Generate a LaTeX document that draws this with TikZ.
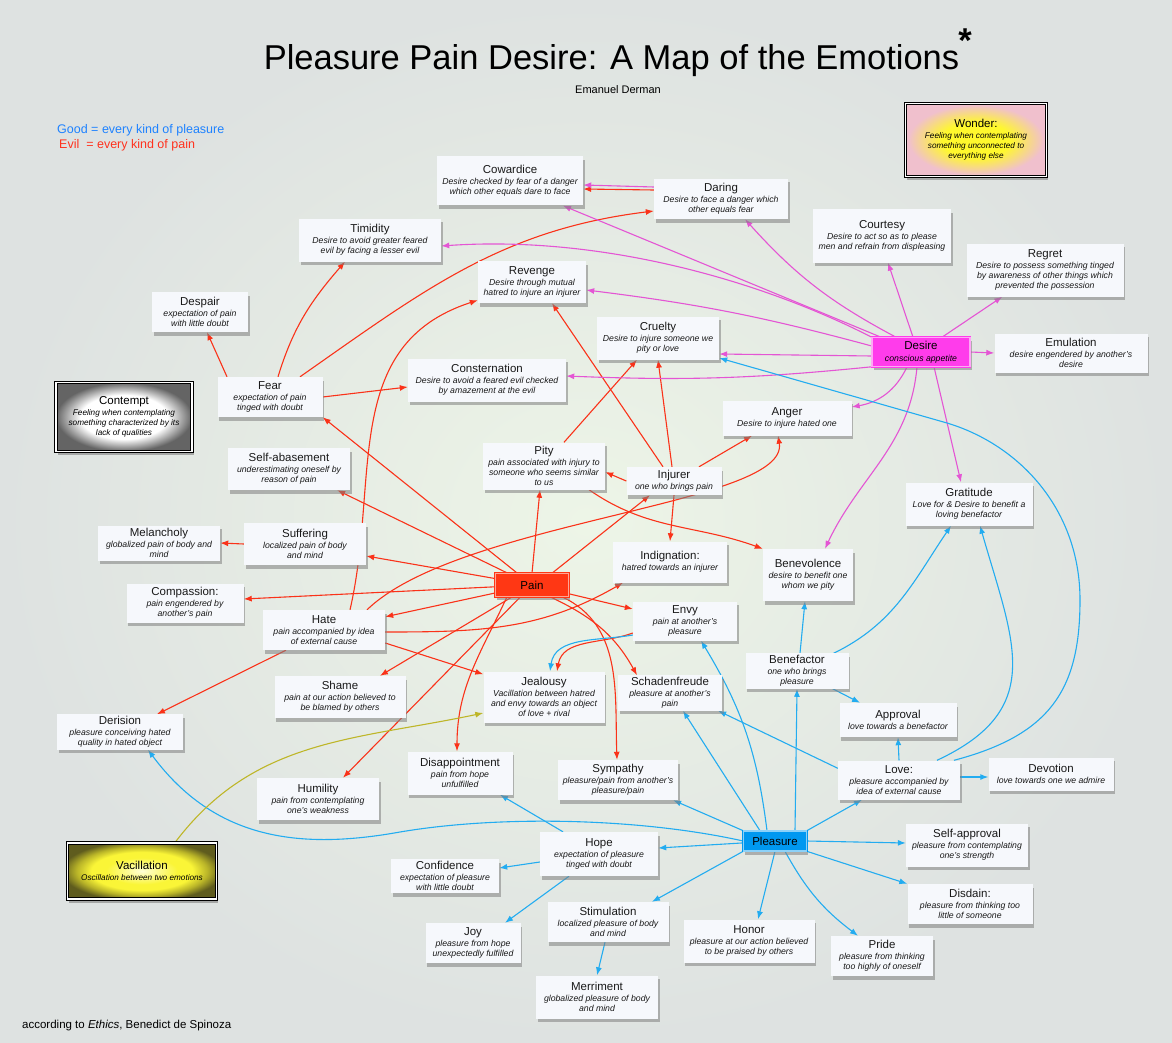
\documentclass[tikz,border=0pt]{standalone}
\usepackage{fontspec}
\setmainfont{Liberation Sans}
\usetikzlibrary{arrows.meta,shadows}
\definecolor{painred}{RGB}{250,50,25}
\definecolor{desirepink}{RGB}{228,85,212}
\definecolor{pleasureblue}{RGB}{35,172,240}
\definecolor{vacolive}{RGB}{190,182,40}
\definecolor{painbox}{RGB}{255,55,20}
\definecolor{desirebox}{RGB}{255,60,235}
\definecolor{pleasurebox}{RGB}{0,152,240}
\definecolor{boxwhite}{RGB}{246,248,252}
\definecolor{goodblue}{RGB}{30,130,255}
\definecolor{evilred}{RGB}{255,50,30}
\definecolor{bginner}{RGB}{237,245,231}
\definecolor{bgouter}{RGB}{222,226,225}
\definecolor{contemptin}{RGB}{255,255,255}
\definecolor{contemptout}{RGB}{100,100,100}
\definecolor{wonderin}{RGB}{255,248,45}
\definecolor{wonderout}{RGB}{240,192,205}
\definecolor{vacin}{RGB}{255,255,215}
\definecolor{vacmid}{RGB}{250,245,55}
\definecolor{vacdark}{RGB}{185,180,40}
\definecolor{vacout}{RGB}{95,92,30}
\pgfdeclareradialshading{contemptshade}{\pgfpoint{0bp}{0bp}}{color(0bp)=(contemptin); color(16bp)=(contemptin); color(25bp)=(contemptout); color(50bp)=(contemptout)}
\pgfdeclareradialshading{wondershade}{\pgfpoint{0bp}{0bp}}{color(0bp)=(wonderin); color(12bp)=(wonderin); color(24bp)=(wonderout); color(50bp)=(wonderout)}
\pgfdeclareradialshading{vacshade}{\pgfpoint{0bp}{0bp}}{color(0bp)=(vacin); color(12bp)=(vacmid); color(17bp)=(vacmid); color(22bp)=(vacdark); color(27bp)=(vacout); color(50bp)=(vacout)}
\newcommand{\etitle}[1]{{\fontsize{11.5}{12}\selectfont\upshape #1}}
\pgfdeclarelayer{bg}
\pgfdeclarelayer{edges}
\pgfsetlayers{bg,edges,main}
\tikzset{
  emo/.style={rectangle, fill=boxwhite, align=center, inner sep=2pt,
    font=\fontsize{8.7}{10}\selectfont\itshape, text=black!90,
    drop shadow={shadow xshift=1.5pt, shadow yshift=-3.5pt, opacity=0.55}},
  core/.style={rectangle, draw=#1, double=white!55!#1, double distance=1.4pt,
    line width=0.6pt, fill=#1, align=center, inner sep=1pt,
    font=\fontsize{11.5}{12}\selectfont,
    drop shadow={shadow xshift=1.5pt, shadow yshift=-3.5pt, opacity=0.55}},
  special/.style={rectangle, draw=black, double=white, double distance=1.6pt,
    line width=0.9pt, align=center, inner sep=2pt, shade,
    font=\fontsize{8.2}{10}\selectfont\itshape,
    drop shadow={shadow xshift=1.5pt, shadow yshift=-3.5pt, opacity=0.6}},
  painarrow/.style={draw=painred, line width=1.1pt, -{Latex[length=8pt,width=6pt]}},
  desirearrow/.style={draw=desirepink, line width=1.1pt, -{Latex[length=8pt,width=6pt]}},
  pleasurearrow/.style={draw=pleasureblue, line width=1.1pt, -{Latex[length=8pt,width=6pt]}},
  vacarrow/.style={draw=vacolive, line width=1.1pt, -{Latex[length=8pt,width=6pt]}}
}
\begin{document}
\begin{tikzpicture}[x=1pt,y=1pt]
  \useasboundingbox (0,0) rectangle (1172,-1043);
  \begin{pgfonlayer}{bg}
    \shade[inner color=bginner, outer color=bgouter] (0,0) rectangle (1172,-1043);
  \end{pgfonlayer}

  % titles and notes
  \node[anchor=base, font=\fontsize{34.5}{36}\selectfont] (title) at (611.5,-70) {Pleasure Pain Desire: A Map of the Emotions};
  \node[anchor=base, font=\fontsize{34.5}{36}\selectfont\bfseries] (star) at (965,-53) {*};
  \node[anchor=base, font=\fontsize{11}{12}\selectfont] (author) at (618,-94) {Emanuel Derman};
  \node[anchor=base west, inner sep=0, text=goodblue, font=\fontsize{12.5}{13}\selectfont] (good) at (57,-134) {Good = every kind of pleasure};
  \node[anchor=base west, inner sep=0, text=evilred, font=\fontsize{12.5}{13}\selectfont] (evil) at (59,-149) {Evil\ \ = every kind of pain};
  \node[anchor=base west, inner sep=0, font=\fontsize{11.5}{12}\selectfont] (source) at (22,-1028) {according to \textit{Ethics}, Benedict de Spinoza};

  % the three centres
  \node[core=painbox, minimum width=73, minimum height=23] (pain) at (532,-585) {Pain};
  \node[core=desirebox, minimum width=98, minimum height=29] (desire) at (921,-352) {Desire\\{\fontsize{8.7}{10}\selectfont\itshape conscious appetite}};
  \node[core=pleasurebox, minimum width=63, minimum height=20] (pleasure) at (775,-841) {Pleasure};

  % feelings apart
  \node[special, shading=wondershade, minimum width=141, minimum height=73] (wonder) at (976,-140) {\etitle{Wonder:}\\[1pt]Feeling when contemplating\\something unconnected to\\everything else};
  \node[special, shading=contemptshade, minimum width=136, minimum height=69] (contempt) at (124,-417) {\etitle{Contempt}\\[1pt]Feeling when contemplating\\something characterized by its\\lack of qualities};
  \node[special, shading=vacshade, minimum width=149, minimum height=56] (vacillation) at (142,-871) {\etitle{Vacillation}\\[1pt]Oscillation between two emotions};

  % emotions
  \node[emo, minimum width=146, minimum height=49] (cowardice) at (510,-181) {\etitle{Cowardice}\\[1pt]Desire checked by fear of a danger\\which other equals dare to face};
  \node[emo, minimum width=134, minimum height=40] (daring) at (721,-199) {\etitle{Daring}\\[1pt]Desire to face a danger which\\other equals fear};
  \node[emo, minimum width=142, minimum height=43] (timidity) at (370,-240) {\etitle{Timidity}\\[1pt]Desire to avoid greater feared\\evil by facing a lesser evil};
  \node[emo, minimum width=138, minimum height=53] (courtesy) at (882,-236) {\etitle{Courtesy}\\[1pt]Desire to act so as to please\\men and refrain from displeasing};
  \node[emo, minimum width=157, minimum height=53] (regret) at (1045,-270) {\etitle{Regret}\\[1pt]Desire to possess something tinged\\by awareness of other things which\\prevented the possession};
  \node[emo, minimum width=96, minimum height=40] (despair) at (200,-312) {\etitle{Despair}\\[1pt]expectation of pain\\with little doubt};
  \node[emo, minimum width=108, minimum height=42] (revenge) at (532,-282) {\etitle{Revenge}\\[1pt]Desire through mutual\\hatred to injure an injurer};
  \node[emo, minimum width=122, minimum height=43] (cruelty) at (658,-338) {\etitle{Cruelty}\\[1pt]Desire to injure someone we\\pity or love};
  \node[emo, minimum width=105, minimum height=40] (fear) at (270,-397) {\etitle{Fear}\\[1pt]expectation of pain\\tinged with doubt};
  \node[emo, minimum width=158, minimum height=43] (consternation) at (487,-380) {\etitle{Consternation}\\[1pt]Desire to avoid a feared evil checked\\by amazement at the evil};
  \node[emo, minimum width=153, minimum height=39] (emulation) at (1071,-353) {\etitle{Emulation}\\[1pt]desire engendered by another's\\desire};
  \node[emo, minimum width=129, minimum height=35] (anger) at (787,-418) {\etitle{Anger}\\[1pt]Desire to injure hated one};
  \node[emo, minimum width=122, minimum height=42] (selfabase) at (289,-469) {\etitle{Self-abasement}\\[1pt]underestimating oneself by\\reason of pain};
  \node[emo, minimum width=122, minimum height=47] (pity) at (544,-466) {\etitle{Pity}\\[1pt]pain associated with injury to\\someone who seems similar\\to us};
  \node[emo, minimum width=95, minimum height=28] (injurer) at (674,-481) {\etitle{Injurer}\\[1pt]one who brings pain};
  \node[emo, minimum width=127, minimum height=43] (gratitude) at (969,-504) {\etitle{Gratitude}\\[1pt]Love for \& Desire to benefit a\\loving benefactor};
  \node[emo, minimum width=122, minimum height=35] (melancholy) at (159,-543) {\etitle{Melancholy}\\[1pt]globalized pain of body and\\mind};
  \node[emo, minimum width=122, minimum height=42] (suffering) at (305,-544) {\etitle{Suffering}\\[1pt]localized pain of body\\and mind};
  \node[emo, minimum width=114, minimum height=41] (indignation) at (670,-562) {\etitle{Indignation:}\\[1pt]hatred towards an injurer};
  \node[emo, minimum width=90, minimum height=52] (benevolence) at (808,-575) {\etitle{Benevolence}\\[1pt]desire to benefit one\\whom we pity};
  \node[emo, minimum width=117, minimum height=39] (compassion) at (185,-603) {\etitle{Compassion:}\\[1pt]pain engendered by\\another's pain};
  \node[emo, minimum width=122, minimum height=40] (hate) at (324,-630) {\etitle{Hate}\\[1pt]pain accompanied by idea\\of external cause};
  \node[emo, minimum width=104, minimum height=39] (envy) at (685,-621) {\etitle{Envy}\\[1pt]pain at another's\\pleasure};
  \node[emo, minimum width=103, minimum height=35] (benefactor) at (797,-671) {\etitle{Benefactor}\\[1pt]one who brings\\pleasure};
  \node[emo, minimum width=131, minimum height=42] (shame) at (340,-697) {\etitle{Shame}\\[1pt]pain at our action believed to\\be blamed by others};
  \node[emo, minimum width=121, minimum height=51] (jealousy) at (544,-697) {\etitle{Jealousy}\\[1pt]Vacillation between hatred\\and envy towards an object\\of love + rival};
  \node[emo, minimum width=104, minimum height=34] (schaden) at (670,-693) {\etitle{Schadenfreude}\\[1pt]pleasure at another's\\pain};
  \node[emo, minimum width=117, minimum height=34] (approval) at (898,-720) {\etitle{Approval}\\[1pt]love towards a benefactor};
  \node[emo, minimum width=126, minimum height=35] (derision) at (120,-732) {\etitle{Derision}\\[1pt]pleasure conceiving hated\\quality in hated object};
  \node[emo, minimum width=105, minimum height=43] (disappoint) at (460,-773) {\etitle{Disappointment}\\[1pt]pain from hope\\unfulfilled};
  \node[emo, minimum width=120, minimum height=40] (sympathy) at (618,-780) {\etitle{Sympathy}\\[1pt]pleasure/pain from another's\\pleasure/pain};
  \node[emo, minimum width=122, minimum height=39] (love) at (899,-780) {\etitle{Love:}\\[1pt]pleasure accompanied by\\idea of external cause};
  \node[emo, minimum width=125, minimum height=33] (devotion) at (1051,-774) {\etitle{Devotion}\\[1pt]love towards one we admire};
  \node[emo, minimum width=122, minimum height=42] (humility) at (318,-799) {\etitle{Humility}\\[1pt]pain from contemplating\\one's weakness};
  \node[emo, minimum width=118, minimum height=44] (hope) at (599,-854) {\etitle{Hope}\\[1pt]expectation of pleasure\\tinged with doubt};
  \node[emo, minimum width=108, minimum height=34] (confidence) at (445,-876) {\etitle{Confidence}\\[1pt]expectation of pleasure\\with little doubt};
  \node[emo, minimum width=122, minimum height=43] (selfapprov) at (967,-845) {\etitle{Self-approval}\\[1pt]pleasure from contemplating\\one's strength};
  \node[emo, minimum width=121, minimum height=40] (stimulation) at (608,-922) {\etitle{Stimulation}\\[1pt]localized pleasure of body\\and mind};
  \node[emo, minimum width=125, minimum height=40] (disdain) at (970,-904) {\etitle{Disdain:}\\[1pt]pleasure from thinking too\\little of someone};
  \node[emo, minimum width=95, minimum height=40] (joy) at (473,-943) {\etitle{Joy}\\[1pt]pleasure from hope\\unexpectedly fulfilled};
  \node[emo, minimum width=131, minimum height=43] (honor) at (749,-941) {\etitle{Honor}\\[1pt]pleasure at our action believed\\to be praised by others};
  \node[emo, minimum width=102, minimum height=40] (pride) at (882,-956) {\etitle{Pride}\\[1pt]pleasure from thinking\\too highly of oneself};
  \node[emo, minimum width=122, minimum height=43] (merriment) at (597,-997) {\etitle{Merriment}\\[1pt]globalized pleasure of body\\and mind};

  \begin{pgfonlayer}{edges}
    % pain
    \draw[painarrow] ([xshift=-43]fear.north) -- ([xshift=7]despair.south);
    \draw[painarrow] ([xshift=8]fear.north) to[out=73,in=-131] ([xshift=-25]timidity.south);
    \draw[painarrow] ([xshift=30]fear.north) to[out=35,in=187] ([yshift=-12]daring.west);
    \draw[painarrow] ([yshift=9]daring.west) -- ([yshift=-8]cowardice.east);
    \draw[painarrow] (fear.east) -- ([yshift=-7]consternation.west);
    \draw[painarrow] (pain) -- (fear.south east);
    \draw[painarrow] (pain) -- ([xshift=-13]selfabase.south east);
    \draw[painarrow] (pain) -- ([yshift=-12]suffering.east);
    \draw[painarrow] (pain) -- ([yshift=4]compassion.east);
    \draw[painarrow] (pain) -- ([yshift=-7]hate.north east);
    \draw[painarrow] (pain) -- ([xshift=40]shame.north);
    \draw[painarrow] (pain) -- ([xshift=25]humility.north);
    \draw[painarrow] ([xshift=-25]pain.south) to[out=-115,in=90] ([xshift=-3]disappoint.north);
    \draw[painarrow] (pain.north) -- ([xshift=-4]pity.south);
    \draw[painarrow] ([xshift=20]pain.north) -- ([xshift=-24]injurer.south);
    \draw[painarrow] (pain) -- ([yshift=12]envy.west);
    \draw[painarrow] ([xshift=18]pain.south) to[out=-25,in=119] ([xshift=-33]schaden.north);
    \draw[painarrow] ([xshift=30]pain.south) to[out=-25,in=92] ([xshift=-1]sympathy.north);
    \draw[painarrow] (suffering.west) -- (melancholy.east);
    \draw[painarrow] ([xshift=-38]hate.south) -- ([xshift=37]derision.north);
    \draw[painarrow] ([yshift=-13]hate.east) -- ([yshift=-3]jealousy.north west);
    \draw[painarrow] ([yshift=-2]hate.east) to[out=0,in=-150] ([xshift=-47]indignation.south);
    \draw[painarrow] ([xshift=43]hate.north) .. controls (460,-520) and (790,-505) .. ([xshift=-9]anger.south);
    \draw[painarrow] ([xshift=26]hate.north) .. controls (380,-480) and (340,-345) .. ([yshift=3]revenge.south west);
    \draw[painarrow] (injurer.west) -- ([yshift=-6]pity.east);
    \draw[painarrow] ([xshift=-11]injurer.north) -- ([xshift=20]revenge.south);
    \draw[painarrow] ([xshift=-2]injurer.north) -- (cruelty.south);
    \draw[painarrow] ([xshift=25]injurer.north) -- ([xshift=-35]anger.south);
    \draw[painarrow] (injurer.south) -- (indignation.north);
    \draw[painarrow] ([xshift=20]pity.north) -- ([xshift=-21]cruelty.south);
    \draw[painarrow] ([xshift=45]pity.south) to[out=-35,in=160] (benevolence.north west);
    \draw[painarrow] ([yshift=-12]envy.west) to[out=200,in=80] ([xshift=13]jealousy.north);

    % desire
    \draw[desirearrow] ([xshift=-8]desire.north) -- ([xshift=6]courtesy.south);
    \draw[desirearrow] ([xshift=21]desire.north) -- ([xshift=36]regret.south west);
    \draw[desirearrow] (desire.east) -- (emulation.west);
    \draw[desirearrow] ([xshift=-14]desire.south) to[out=-115,in=10] ([yshift=11]anger.east);
    \draw[desirearrow] ([xshift=13]desire.south) -- ([xshift=-8]gratitude.north);
    \draw[desirearrow] ([xshift=-4]desire.south) to[out=-95,in=65] ([xshift=17]benevolence.north);
    \draw[desirearrow] (desire.south west) to[bend left=4] ([yshift=4]consternation.east);
    \draw[desirearrow] ([yshift=-4]desire.west) -- ([yshift=-16]cruelty.east);
    \draw[desirearrow] ([yshift=6]desire.west) to[bend right=4] ([yshift=-8]revenge.east);
    \draw[desirearrow] (desire.north west) .. controls (760,-280) and (600,-235) .. ([yshift=-6]timidity.east);
    \draw[desirearrow] ([xshift=-40]desire.north) -- ([xshift=53]cowardice.south);
    \draw[desirearrow] ([xshift=-25]desire.north) to[bend left=10] ([xshift=24]daring.south);
    \draw[desirearrow] ([yshift=12]daring.west) -- ([yshift=-4]cowardice.east);

    % pleasure
    \draw[pleasurearrow] (pleasure.west) .. controls (640,-818) and (500,-815) .. (400,-832)
      .. controls (300,-850) and (215,-840) .. ([xshift=28]derision.south);
    \draw[pleasurearrow] (pleasure) -- ([yshift=6]hope.east);
    \draw[pleasurearrow] ([yshift=-8]hope.west) -- ([yshift=8]confidence.east);
    \draw[pleasurearrow] ([xshift=-30]hope.south) -- ([xshift=32]joy.north);
    \draw[pleasurearrow] ([xshift=-36]hope.north) -- ([xshift=40]disappoint.south);
    \draw[pleasurearrow] (pleasure.south west) -- ([xshift=44]stimulation.north);
    \draw[pleasurearrow] ([xshift=-3]stimulation.south) -- (merriment.north);
    \draw[pleasurearrow] (pleasure.south) -- ([xshift=9]honor.north);
    \draw[pleasurearrow] ([xshift=10]pleasure.south) to[bend right=12] ([xshift=-24]pride.north);
    \draw[pleasurearrow] (pleasure.south east) -- (disdain.north west);
    \draw[pleasurearrow] (pleasure.east) -- ([yshift=2]selfapprov.west);
    \draw[pleasurearrow] (pleasure.north east) -- ([xshift=-37]love.south);
    \draw[pleasurearrow] (pleasure.north west) -- ([xshift=-5]sympathy.south east);
    \draw[pleasurearrow] ([xshift=-15]pleasure.north) -- ([xshift=13]schaden.south);
    \draw[pleasurearrow] ([xshift=-8]pleasure.north) to[bend right=12] ([xshift=16]envy.south);
    \draw[pleasurearrow] ([xshift=20]pleasure.north) -- (benefactor.south);
    \draw[pleasurearrow] ([yshift=-8]love.north west) -- ([xshift=-4]schaden.south east);
    \draw[pleasurearrow] (love.north) -- (approval.south);
    \draw[pleasurearrow] ([yshift=3]love.east) -- ([yshift=-3]devotion.west);
    \draw[pleasurearrow] ([xshift=38]love.north) to[out=25,in=-74,looseness=1.3] ([xshift=11]gratitude.south);
    \draw[pleasurearrow] ([xshift=55]love.north) .. controls (1050,-735) and (1080,-690) .. (1080,-600)
      .. controls (1080,-510) and (1020,-445) .. (947,-423) -- ([yshift=-20]cruelty.east);
    \draw[pleasurearrow] ([xshift=3]benefactor.north) -- ([xshift=-3]benevolence.south);
    \draw[pleasurearrow] ([xshift=-15]benefactor.north east) to[out=26,in=-124] ([xshift=-18]gratitude.south);
    \draw[pleasurearrow] ([xshift=-16]benefactor.south east) -- ([xshift=-38]approval.north);
    \draw[pleasurearrow] ([yshift=-14]envy.west) to[out=190,in=82] ([xshift=6]jealousy.north);

    % vacillation
    \draw[vacarrow] ([xshift=33]vacillation.north) to[out=53,in=192] ([yshift=-16]jealousy.west);
  \end{pgfonlayer}
\end{tikzpicture}
\end{document}
